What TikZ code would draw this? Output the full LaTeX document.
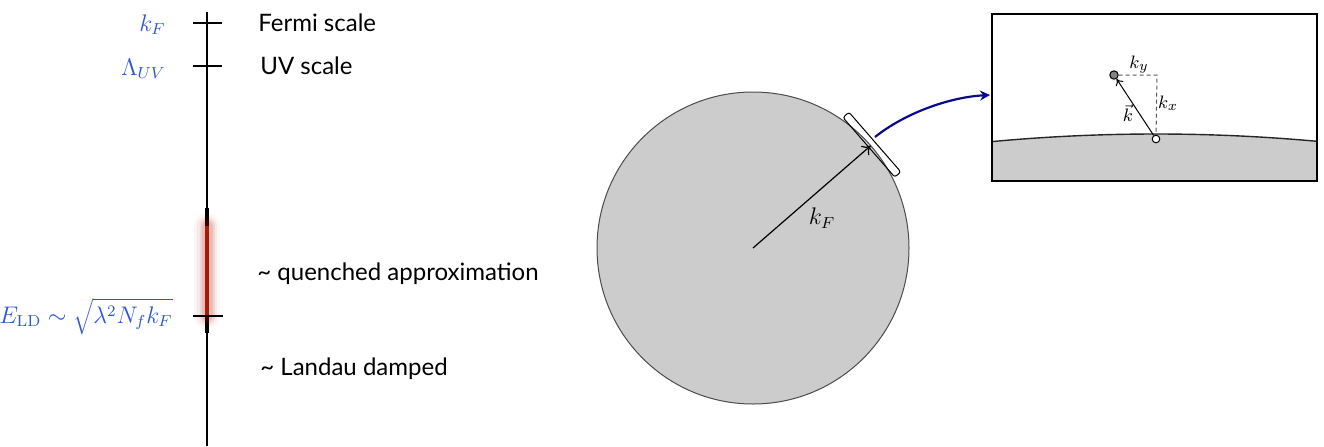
\documentclass[tikz,border=0pt]{standalone}
\usepackage[no-math]{fontspec}
\setmainfont{Lato}
\usetikzlibrary{arrows.meta,calc}
\definecolor{lblue}{RGB}{45,85,215}
\definecolor{dred}{RGB}{170,25,5}
\definecolor{navy}{RGB}{10,10,140}
\definecolor{fgray}{RGB}{204,204,204}
\definecolor{dotgray}{RGB}{130,130,130}
\begin{document}
\begin{tikzpicture}[x=0.5pt,y=-0.5pt,
  lab/.style={font=\fontsize{12}{14}\selectfont,inner sep=0},
  mlab/.style={text=lblue,font=\fontsize{12}{14}\selectfont,inner sep=0},
  slab/.style={font=\fontsize{9.5}{11}\selectfont,inner sep=0},
  ticksty/.style={line width=1.3pt},
  axis/.style={line width=0.9pt},
  dsh/.style={draw=black!65,line width=0.5pt,dash pattern=on 2pt off 1.5pt}]
\useasboundingbox (0,0) rectangle (1324,446);
% axis
\coordinate (axtop) at (207,12);
\coordinate (axbot) at (207,446);
\draw[axis] (axtop) -- (axbot);
\coordinate (t1a) at (193,23); \coordinate (t1b) at (222,23);
\coordinate (t2a) at (193,66); \coordinate (t2b) at (222,66);
\coordinate (t3a) at (193,316); \coordinate (t3b) at (223,316);
\draw[ticksty] (t1a) -- (t1b);
\draw[ticksty] (t2a) -- (t2b);
% thick segment and red bar with glow
\coordinate (thA) at (207,208); \coordinate (thB) at (207,333);
\coordinate (rA) at (207,226); \coordinate (rB) at (207,316);
\draw[line width=2pt] (thA) -- (thB);
\foreach \w/\o in {13/0.04,10/0.06,7.5/0.09,5.5/0.13}{
  \draw[dred,line width=\w pt,opacity=\o,line cap=round] (rA) -- (rB);}
\draw[dred,line width=2.4pt] (rA) -- (rB);
\draw[ticksty] (t3a) -- (t3b);
% labels
\node[mlab,anchor=base east] (kf) at (166,31) {$k_F$};
\node[mlab,anchor=base east] (luv) at (166,75) {$\Lambda_{UV}$};
\node[mlab,anchor=base east] (eld) at (173,323) {$E_{\mathrm{LD}}\sim\sqrt{\lambda^2N_fk_F}$};
\node[lab,anchor=base west] (fermi) at (258,31) {Fermi scale};
\node[lab,anchor=base west] (uv) at (260,74) {UV scale};
\node[lab,anchor=base west] (quench) at (257,280) {\textasciitilde{} quenched approximation};
\node[lab,anchor=base west] (landau) at (260,375) {\textasciitilde{} Landau damped};
% Fermi sphere
\coordinate (c) at (753,248);
\fill[fgray] (c) circle[radius=156];
\draw[black!70,line width=0.5pt] (c) circle[radius=156];
\coordinate (kfend) at ($(c)+(-41:156)$);
\draw[line width=0.6pt,-{To[length=4pt,width=6pt]}] (c) -- (kfend);
\node[font=\fontsize{12}{14}\selectfont] (kflab) at (822,218) {$k_F$};
\node[draw,line width=0.5pt,rounded corners=1.2pt,minimum width=39.5pt,minimum height=4pt,inner sep=0,rotate=-49] (patch) at ($(c)+(-41:157.5)$) {};
% blue arrow
\coordinate (bs) at (875,137);
\coordinate (be) at (990,95);
\draw[navy,line width=1.1pt,-{Stealth[length=5pt,width=5pt]}] (bs) .. controls (905,113) and (950,97) .. (be);
% inset
\coordinate (inw) at (992,14);
\coordinate (ise) at (1317,181);
\begin{scope}
\clip (inw) rectangle (ise);
\fill[fgray] (1156,1884) circle[radius=1750];
\draw[line width=0.7pt,black!85] (1156,1884) circle[radius=1750];
\end{scope}
\draw[line width=0.6pt] (inw) rectangle (ise);
\node[circle,draw,line width=0.5pt,fill=dotgray,minimum size=4.2pt,inner sep=0] (part) at (1114,75) {};
\node[circle,draw,line width=0.5pt,fill=white,minimum size=3.8pt,inner sep=0] (hole) at (1156,139) {};
\coordinate (corner) at (1157,75);
\draw[dsh] (part) -- (corner) -- (hole);
\draw[line width=0.5pt,-{To[length=3pt,width=4.5pt]}] (hole) -- (part);
\node[slab] (ky) at (1139,65) {$k_y$};
\node[slab] (kx) at (1168,103) {$k_x$};
\node[slab] (kvec) at (1128,113) {$\vec k$};
\end{tikzpicture}
\end{document}
